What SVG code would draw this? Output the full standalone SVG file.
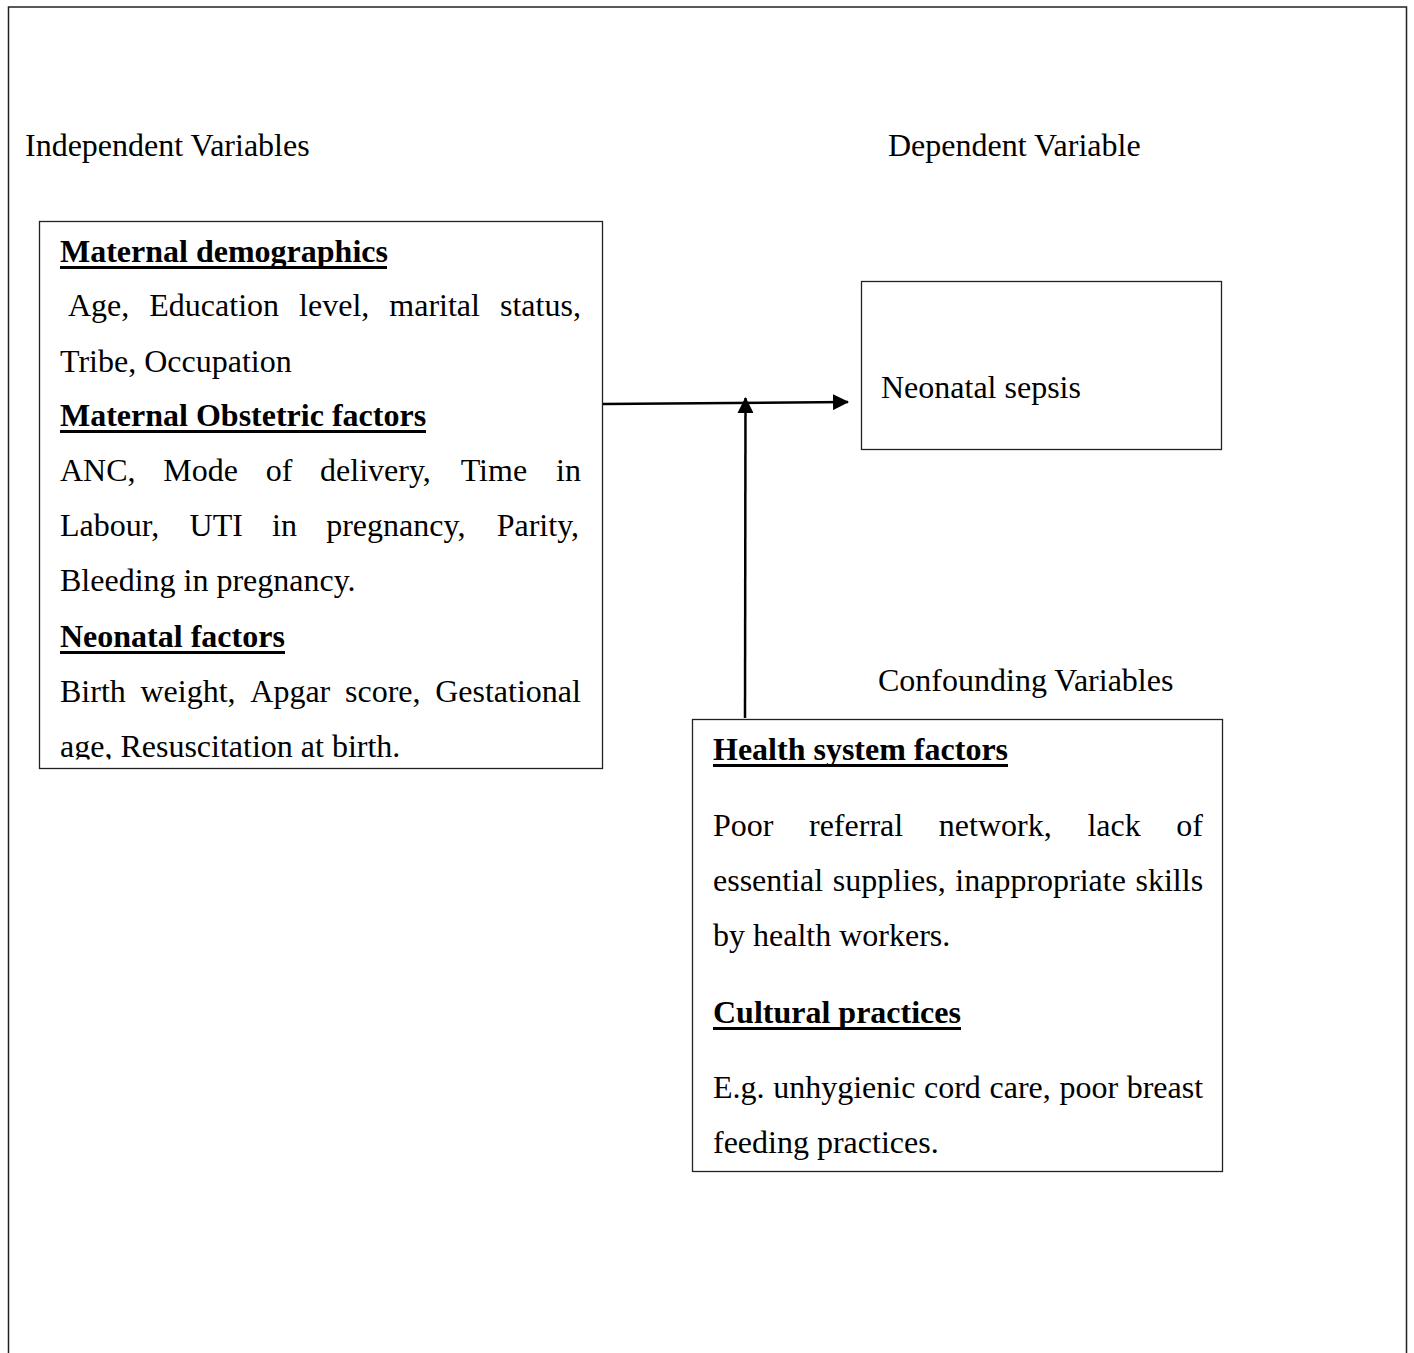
<svg xmlns="http://www.w3.org/2000/svg" width="1414" height="1353" viewBox="0 0 1414 1353">
<style>
.t{font-family:"Liberation Serif","Times New Roman",serif;font-size:32px;fill:#000}
.b{font-weight:bold}
.box{fill:#fff;stroke:#222;stroke-width:1.3}
.ul{stroke:#000;stroke-width:3}
.conn{stroke:#000;stroke-width:2.5;fill:none}
</style>
<defs>
<marker id="ah" markerUnits="userSpaceOnUse" markerWidth="16" markerHeight="16" refX="15" refY="8" orient="auto">
<path d="M0,0 L16,8 L0,16 Z" fill="#000"/>
</marker>
<clipPath id="clipL"><rect x="39" y="221" width="564" height="538.5"/></clipPath>
</defs>
<rect width="1414" height="1353" fill="#fff"/>
<path d="M8.5,1353 V7 H1406.5 V1353" fill="none" stroke="#222" stroke-width="1.5"/>

<g id="labels">
<text class="t" x="25" y="156">Independent Variables</text>
<text class="t" x="888" y="156">Dependent Variable</text>
<text class="t" x="878" y="691">Confounding Variables</text>
</g>

<g id="independent">
<rect class="box" x="39.5" y="221.5" width="563" height="547"/>
<g clip-path="url(#clipL)">
<text class="t b" x="60" y="262">Maternal demographics</text>
<line class="ul" x1="60" y1="267.5" x2="387" y2="267.5"/>
<text class="t" y="316"><tspan x="68">Age,</tspan><tspan x="149.3">Education</tspan><tspan x="299.1">level,</tspan><tspan x="389.3">marital</tspan><tspan x="500">status,</tspan></text>
<text class="t" x="60" y="372">Tribe, Occupation</text>
<text class="t b" x="60" y="426">Maternal Obstetric factors</text>
<line class="ul" x1="60" y1="431.5" x2="426" y2="431.5"/>
<text class="t" y="481"><tspan x="60">ANC,</tspan><tspan x="163.3">Mode</tspan><tspan x="265.7">of</tspan><tspan x="320.1">delivery,</tspan><tspan x="460.7">Time</tspan><tspan x="556">in</tspan></text>
<text class="t" y="536"><tspan x="60">Labour,</tspan><tspan x="189.6">UTI</tspan><tspan x="272.1">in</tspan><tspan x="326.2">pregnancy,</tspan><tspan x="496.7">Parity,</tspan></text>
<text class="t" x="60" y="591">Bleeding in pregnancy.</text>
<text class="t b" x="60" y="647">Neonatal factors</text>
<line class="ul" x1="60" y1="652.5" x2="285" y2="652.5"/>
<text class="t" y="702"><tspan x="60">Birth</tspan><tspan x="140.5">weight,</tspan><tspan x="250.3">Apgar</tspan><tspan x="345">score,</tspan><tspan x="435.2">Gestational</tspan></text>
<text class="t" x="60" y="757">age, Resuscitation at birth.</text>
</g>
</g>

<g id="dependent">
<rect class="box" x="861.5" y="281.5" width="360" height="168"/>
<text class="t" x="881" y="398">Neonatal sepsis</text>
</g>

<g id="confounding">
<rect class="box" x="692.5" y="719.5" width="530" height="452"/>
<text class="t b" x="713" y="760">Health system factors</text>
<line class="ul" x1="713" y1="765.5" x2="1008" y2="765.5"/>
<text class="t" y="836"><tspan x="713">Poor</tspan><tspan x="809">referral</tspan><tspan x="938.8">network,</tspan><tspan x="1087.4">lack</tspan><tspan x="1176.3">of</tspan></text>
<text class="t" y="891"><tspan x="713">essential</tspan><tspan x="832.8">supplies,</tspan><tspan x="955.3">inappropriate</tspan><tspan x="1135.5">skills</tspan></text>
<text class="t" x="713" y="946">by health workers.</text>
<text class="t b" x="713" y="1023">Cultural practices</text>
<line class="ul" x1="713" y1="1028.5" x2="961" y2="1028.5"/>
<text class="t" y="1098"><tspan x="713">E.g.</tspan><tspan x="773.2">unhygienic</tspan><tspan x="924">cord</tspan><tspan x="989.5">care,</tspan><tspan x="1059.4">poor</tspan><tspan x="1126.7">breast</tspan></text>
<text class="t" x="713" y="1153">feeding practices.</text>
</g>

<g id="connectors">
<line class="conn" x1="603" y1="404" x2="848" y2="402" marker-end="url(#ah)"/>
<line class="conn" x1="745" y1="718" x2="745.5" y2="398" marker-end="url(#ah)"/>
</g>
</svg>
